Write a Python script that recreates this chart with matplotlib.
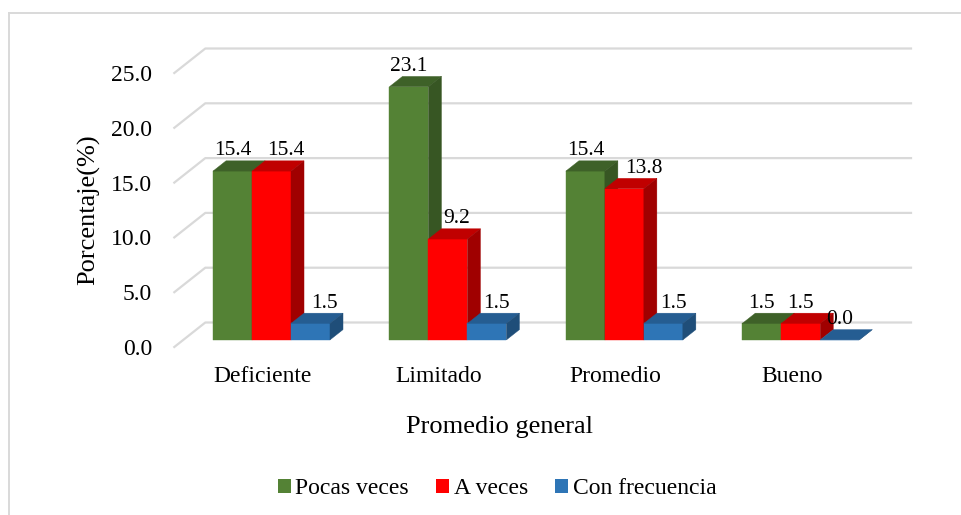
import matplotlib
matplotlib.use("Agg")
import matplotlib.pyplot as plt
from matplotlib.patches import Polygon, Patch
from matplotlib.lines import Line2D

plt.rcParams['font.family'] = ['Liberation Serif', 'DejaVu Serif']

categories = ["Deficiente", "Limitado", "Promedio", "Bueno"]
pocas_veces = [15.4, 23.1, 15.4, 1.5]
a_veces = [15.4, 9.2, 13.8, 1.5]
con_frecuencia = [1.5, 1.5, 1.5, 0.0]
series_names = ["Pocas veces", "A veces", "Con frecuencia"]
yticks = [0, 5, 10, 15, 20, 25]

# front, top and side colours for each series
colors = [
    ("#548235", "#3e6128", "#375623"),
    ("#ff0000", "#c00000", "#a00000"),
    ("#2e75b6", "#255d92", "#1f4e79"),
]

# sideways nudge (points) of each value label, per category and series
label_shift = [
    (0, 10, 10),
    (0, 6, 7),
    (0, 14, 7),
    (0, 0, 0),
]

# oblique depth of the plot box (x in category units, y in value units)
DX = 0.1757
DY = 2.235
F0, F1 = 0.29, 0.71   # depth slice taken by the bars
BW = 0.221            # bar width

fig = plt.figure(figsize=(9.61, 5.15), dpi=100)
W, H = 961, 515
ax = fig.add_axes([174.3 / W, 1 - 347 / H, 705.7 / W, 274 / H])
ax.set_xlim(-0.5, 3.5)
ax.set_ylim(0, 25)
for s in ax.spines.values():
    s.set_visible(False)
ax.patch.set_alpha(0)

ax.set_yticks(yticks)
ax.set_yticklabels([f"{t:.1f}" for t in yticks])
ax.set_xticks(range(len(categories)))
ax.set_xticklabels(categories)
ax.tick_params(axis='y', length=0, pad=16, labelsize=17)
ax.tick_params(axis='x', length=0, pad=13.5, labelsize=17)

grid = "#d9d9d9"
for v in yticks:
    ax.add_line(Line2D([-0.5, -0.5 + DX, 3.5 + DX], [v, v + DY, v + DY],
                       color=grid, lw=1.6, clip_on=False, zorder=1))


def pt(x, y, f):
    return (x + f * DX, y + f * DY)


series = [pocas_veces, a_veces, con_frecuencia]
for i in range(len(categories)):
    for j, vals in enumerate(series):
        v = vals[i]
        x0 = i - 1.5 * BW + j * BW
        x1 = x0 + BW
        front_c, top_c, side_c = colors[j]
        z = 3 + i * 3 + j
        faces = [
            ([pt(x0, 0, F0), pt(x1, 0, F0), pt(x1, v, F0), pt(x0, v, F0)], front_c),
            ([pt(x0, v, F0), pt(x1, v, F0), pt(x1, v, F1), pt(x0, v, F1)], top_c),
            ([pt(x1, 0, F0), pt(x1, 0, F1), pt(x1, v, F1), pt(x1, v, F0)], side_c),
        ]
        for verts, c in faces:
            ax.add_patch(Polygon(verts, closed=True, facecolor=c, edgecolor=c,
                                 lw=0.3, clip_on=False, zorder=z))
        cx, cy = pt((x0 + x1) / 2, v, F0)
        ax.annotate(f"{v:.1f}", xy=(cx, v + F1 * DY),
                    xytext=(label_shift[i][j], 4),
                    textcoords="offset points", ha="center", va="baseline",
                    fontsize=15.5, zorder=50, annotation_clip=False)

ax.set_ylabel("Porcentaje(%)", fontsize=19)
ax.yaxis.set_label_coords((89 - 174.3) / 705.7, 0.5)
ax.yaxis.label.set_va("center")
ax.set_xlabel("Promedio general", fontsize=19)
ax.xaxis.set_label_coords((500 - 174.3) / 705.7, (347 - 427) / 274)
ax.xaxis.label.set_va("center")

handles = [Patch(facecolor=c[0], edgecolor="none") for c in colors]
fig.legend(handles, series_names, loc="center",
           bbox_to_anchor=(497 / W, 1 - 489 / H), ncol=3, frameon=False,
           fontsize=17, handlelength=0.55, handleheight=0.55,
           handletextpad=0.2, columnspacing=1.15)

# chart area border
fig.add_artist(Line2D([9 / W, 9 / W], [-0.05, 1 - 13 / H], color=grid,
                      lw=1.4, transform=fig.transFigure))
fig.add_artist(Line2D([9 / W, 1.05], [1 - 13 / H, 1 - 13 / H], color=grid,
                      lw=1.4, transform=fig.transFigure))

fig.savefig("out.png", dpi=100, facecolor="white")
